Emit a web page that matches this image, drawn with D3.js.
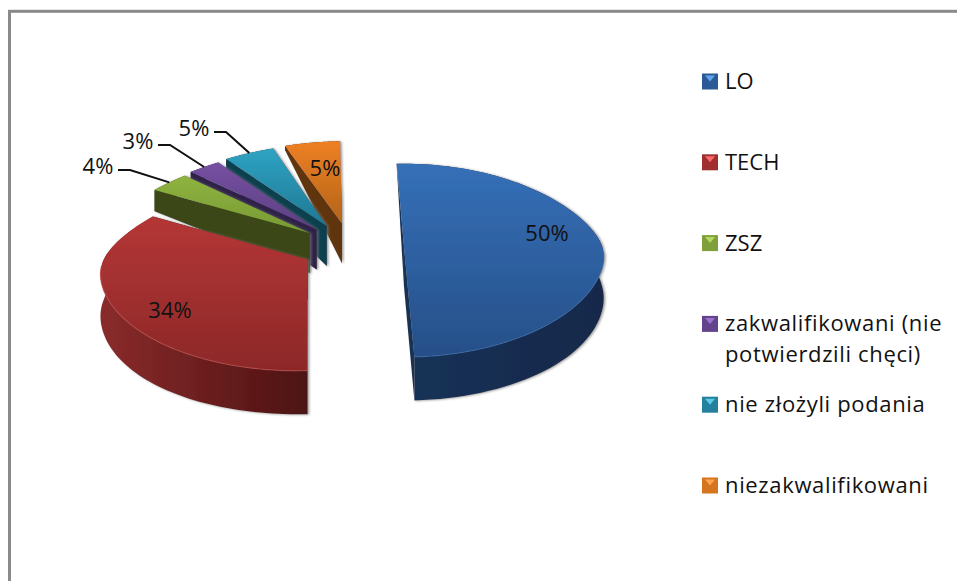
<!DOCTYPE html>
<html><head><meta charset="utf-8">
<script src="https://cdn.jsdelivr.net/npm/d3@7"></script>
<style>html,body{margin:0;padding:0;background:#fff}svg{display:block}text{font-family:"Open Sans",Lato,sans-serif;fill:#111}</style>
</head><body><div id="c"></div>
<script>
const categories = ["LO","TECH","ZSZ","zakwalifikowani (nie|potwierdzili chęci)","nie złożyli podania","niezakwalifikowani"];
const values = [49.8,33.8,3.5,2.9,4.7,5.3];
const topLight = ["#3570b8","#b53636","#8fb33f","#7650a2","#2fa3c4","#ee8024"];
const topDark  = ["#264f88","#8c2828","#779a34","#5c4082","#1f7893","#b3641a"];
const wallLight= ["#14284a","#8a2b2b","#3a4719","#2e2048","#11404f","#60360f"];
const wallDark = ["#173257","#4d1212","#3a4719","#2e2048","#11404f","#60360f"];
const radialWall=["#163155","#4d1212","#3a4719","#2e2048","#11404f","#60360f"];
const bevel    = ["#3a70b0","#c25050","#9cc04a","#8560b0","#40b0d0","#f09040"];
const swatch   = ["#2c5a98","#a03030","#7f9f3a","#63448c","#23819e","#d5761f"];
const swatchHi = ["#62a6ee","#fb6a6a","#b4d860","#9a74cc","#5ccbe8","#ffa64e"];
const labelPos = [[547,232],[170,309],[98,165],[138,140],[194,127],[325,167]];
const useLeader= [false,false,true,true,true,false];

const W=957,H=581;
const svg=d3.select("#c").append("svg").attr("width",W).attr("height",H);
const defs=svg.append("defs");
const f=defs.append("filter").attr("id","sh").attr("x","-5%").attr("y","-5%").attr("width","110%").attr("height","110%");
f.append("feDropShadow").attr("dx",1.5).attr("dy",0.5).attr("stdDeviation",1.3).attr("flood-color","#777").attr("flood-opacity",0.75);

svg.append("rect").attr("x",9.5).attr("y",11.3).attr("width",W+20).attr("height",H+20)
  .attr("fill","#fff").attr("stroke","#8a8a8a").attr("stroke-width",3);

const deg=Math.PI/180;
const ang=d3.scaleLinear().domain([0,2*Math.PI]).range([-2.5*deg,358.5*deg]);
const arcs=d3.pie().sort(null)(values).map((d,i)=>({...d,i,startAngle:ang(d.startAngle),endAngle:ang(d.endAngle)}));
const cx=352,cy=247,ex=52,ey=24,rxL=204,rxR=198,ry=94.5,ky=0.15,h0=40,tilt=0.24;
const apex=d=>{const m=(d.startAngle+d.endAngle)/2;return [cx+ex*Math.sin(m),cy-ey*Math.cos(m)];};
const rim=(d,a)=>{const A=apex(d),X=Math.sin(a),Y=-Math.cos(a),k=0.165-0.065*Math.tanh(4*Y);
  return [A[0]+(X>0?rxR:rxL)*X/(1-k*Y)+tilt*Math.min(0,A[0]-cx)*Y,A[1]+ry*Y/(1-ky*Y)];};
const depth=a=>{const Y=-Math.cos(a);return Math.max(0,Y<0?h0+38*Y:h0+14*Y*(1-0.75*Y));};
const line=d3.line();
const samples=d=>d3.range(0,81).map(t=>d.startAngle+(d.endAngle-d.startAngle)*t/80);
const down=(p,h)=>[p[0],p[1]+h];

arcs.forEach(d=>{
  const t=defs.append("linearGradient").attr("id","t"+d.i).attr("x1",0).attr("y1",0).attr("x2",0).attr("y2",1);
  t.append("stop").attr("offset",0).attr("stop-color",topLight[d.i]);
  t.append("stop").attr("offset",1).attr("stop-color",topDark[d.i]);
  const w=defs.append("linearGradient").attr("id","w"+d.i).attr("x1",d.i==1?0:1).attr("y1",0).attr("x2",d.i==1?1:0).attr("y2",0);
  w.append("stop").attr("offset",0).attr("stop-color",wallLight[d.i]);
  w.append("stop").attr("offset",1).attr("stop-color",wallDark[d.i]);
});

const pieG=svg.append("g");
arcs.slice().reverse().forEach(d=>{
  const g=pieG.append("g").attr("filter","url(#sh)");
  const A=apex(d),as=samples(d),top=as.map(a=>rim(d,a));
  const radial=a=>{const r=rim(d,a);return [A,r,down(r,depth(a)),down(A,h0)];};
  g.append("path").attr("d",line(radial(d.startAngle))+"Z").attr("fill",radialWall[d.i]);
  g.append("path").attr("d",line(radial(d.endAngle))+"Z").attr("fill",radialWall[d.i]);
  const bottom=as.map((a,j)=>down(top[j],depth(a))).reverse();
  g.append("path").attr("d",line(top.concat(bottom))+"Z").attr("fill",`url(#w${d.i})`);
  g.append("path").attr("d",line([A,...top])+"Z").attr("fill",`url(#t${d.i})`);
  const front=top.filter((p,j)=>Math.cos(as[j])<-0.05);
  if(front.length>1) g.append("path").attr("d",line(front)).attr("fill","none")
    .attr("stroke",bevel[d.i]).attr("stroke-width",1.2).attr("stroke-opacity",0.6);
});

arcs.forEach(d=>{
  const p=labelPos[d.i];
  if(useLeader[d.i]){
    const m=(d.startAngle+d.endAngle)/2,r=rim(d,m);
    svg.append("path").attr("fill","none").attr("stroke","#111").attr("stroke-width",2)
      .attr("d",line([[p[0]+20,p[1]+5],[p[0]+32,p[1]+5],r]));
  }
  svg.append("text").attr("x",p[0]).attr("y",p[1]).attr("text-anchor","middle").attr("dominant-baseline","central")
    .attr("font-size",22).text(Math.round(d.value)+"%");
});

const ly=d3.scalePoint().domain(categories).range([81,485]);
categories.forEach((c,i)=>{
  const y=ly(c),g=svg.append("g");
  const mx=702,ms=16,my=y-7.5;
  g.append("rect").attr("x",mx).attr("y",my).attr("width",ms).attr("height",ms).attr("fill",swatch[i]);
  g.append("path").attr("fill",swatchHi[i]).attr("d",line([[mx+3,my+2],[mx+ms-3,my+2],[mx+ms/2,my+8]])+"Z");
  c.split("|").forEach((t,j)=>g.append("text").attr("x",725).attr("y",y-1+(j*31)).attr("dominant-baseline","central")
    .attr("font-size",22).attr("letter-spacing",/[a-z]/.test(t)?0.65:0).text(t));
});
</script></body></html>
